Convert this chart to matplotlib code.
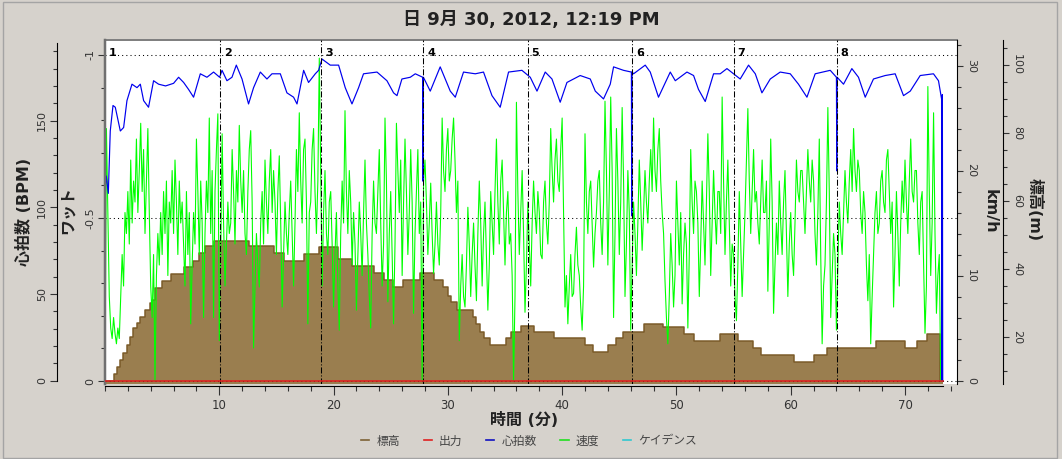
import matplotlib.pyplot as plt
import numpy as np
from matplotlib.lines import Line2D
from matplotlib.patches import Rectangle
from matplotlib.ticker import MultipleLocator

plt.rcParams['font.family'] = ['DejaVu Sans', 'Noto Sans CJK JP']

title = "日 9月 30, 2012, 12:19 PM"

lap_t = [0.0, 10.03, 18.92, 27.82, 36.97, 46.08, 55.0, 64.02]
lap_names = ["1", "2", "3", "4", "5", "6", "7", "8"]

# elevation (m), step changes
elev_t = [0.0, 0.81, 1.05, 1.34, 1.60, 1.92, 2.21, 2.48, 2.80, 3.03, 3.53, 3.96, 4.11,
          4.34, 4.99, 5.77, 6.94, 7.70, 8.19, 8.78, 9.50, 12.62, 14.75, 15.69, 17.38,
          18.69, 20.41, 21.57, 23.56, 24.37, 25.16, 26.07, 27.60, 28.81, 29.60, 29.97,
          30.27, 30.80, 32.20, 32.46, 32.84, 33.18, 33.71, 35.11, 35.55, 36.42, 37.56,
          39.33, 41.96, 42.69, 44.01, 44.73, 45.32, 47.12, 48.82, 50.62, 51.58, 53.77,
          55.35, 56.69, 57.39, 60.25, 62.08, 63.17, 67.42, 70.04, 71.09, 71.92, 73.10, 73.30]
elev_m = [7.0, 9.0, 11.3, 13.2, 15.4, 17.6, 20.1, 22.6, 24.1, 26.0, 27.9, 30.0, 30.9,
          34.3, 36.5, 38.4, 40.6, 42.4, 44.6, 46.8, 48.3, 46.8, 44.6, 42.4, 44.4,
          46.6, 42.9, 40.9, 38.7, 36.8, 34.8, 36.8, 38.7, 36.8, 34.8, 32.1,
          30.4, 27.9, 26.0, 23.8, 21.6, 19.6, 17.6, 19.6, 21.6, 23.3, 21.6,
          19.6, 17.6, 15.5, 17.6, 19.6, 21.6, 23.7, 22.9, 20.8, 18.8, 20.8,
          18.8, 16.9, 14.7, 12.6, 14.7, 16.8, 18.7, 16.8, 18.7, 20.8, 7.0, 7.0]

# heart rate (bpm)
hr_t = [0.00, 0.11, 0.29, 0.46, 0.70, 0.90, 1.34, 1.63, 1.92, 2.36, 2.80, 3.09, 3.38,
        3.81, 4.25, 4.69, 5.30, 6.00, 6.44, 6.88, 7.31, 7.75, 8.34, 8.92, 9.50, 10.03,
        10.24, 10.67, 11.11, 11.49, 11.99, 12.56, 13.00, 13.59, 14.17, 14.61, 15.34,
        15.92, 16.50, 16.80, 17.38, 17.81, 18.40, 18.69, 18.99, 19.71, 20.44, 21.02,
        21.61, 22.19, 22.62, 23.80, 24.67, 25.25, 25.55, 25.98, 26.71, 27.15, 27.80,
        27.83, 27.86, 28.46, 29.33, 30.21, 30.65, 31.37, 32.40, 33.12, 33.86, 34.58,
        35.31, 36.48, 37.21, 37.80, 38.52, 39.11, 39.83, 40.42, 41.58, 42.46, 42.90,
        43.62, 44.21, 44.50, 45.37, 46.06, 46.09, 46.12, 46.25, 47.27, 47.71, 48.43,
        49.46, 49.90, 50.92, 51.50, 51.93, 52.52, 53.25, 53.83, 54.42, 55.00, 55.58,
        56.31, 56.90, 57.48, 58.21, 59.08, 59.96, 60.68, 61.42, 62.14, 63.46, 64.00,
        64.03, 64.06, 64.62, 65.35, 65.93, 66.52, 67.24, 68.27, 69.14, 69.87, 70.46,
        71.33, 72.49, 72.93, 73.20, 73.24, 73.27, 73.30]
hr_bpm = [110, 118, 108, 144, 158.7, 157.7, 144, 146, 161.5, 171, 169, 171, 161.5,
          157.7, 173, 171, 170, 171.5, 175, 172, 168, 163.5, 177, 175, 178, 175,
          179, 173, 175, 182, 174, 159.6, 169, 178, 174, 177, 177,
          166, 163.5, 159.6, 179, 172, 177, 179, 185.5, 182, 182, 169,
          159.6, 169, 177, 178, 173, 166, 164.4, 174, 175, 177, 175,
          115, 175, 167, 181, 167, 163.5, 178, 177, 178, 164.4, 157.7,
          178, 179, 175, 167, 178, 174, 160.6, 172, 176, 174, 167,
          162.5, 171, 181, 179, 178, 95, 178, 177, 182, 178, 163.5,
          178, 173, 178, 176, 168, 161, 177, 177, 180, 177, 174,
          182, 177, 166, 174, 178, 177, 171, 163.5, 177, 179, 175,
          121, 175, 171, 180, 175, 163.5, 174, 176, 177, 164.4, 167,
          176, 177, 173, 162.5, 0, 165, 0]

# speed (km/h), one reading every 0.125 min (8 per minute, one row per minute)
speed_dt = 0.125
speed_kmh = [
    0, 24, 16, 8, 5, 4, 6, 4.5,
    3.5, 5, 4, 8, 12, 9, 16, 14,
    18, 13, 21, 15, 19, 17, 23, 16,
    20, 24.5, 18, 22, 14, 19, 24, 16,
    9, 6, 12, 0, 10, 14, 11, 16,
    12, 18, 14, 19, 10, 17, 15, 20,
    14, 21, 17, 12, 19, 15, 17, 13,
    9, 18, 12, 16, 5.4, 11, 16, 13,
    23, 18, 12, 19, 15, 6, 14, 19,
    16, 25, 14, 20, 6, 18, 22, 25.4,
    3.8, 12, 23.5, 15, 9, 13, 17, 14,
    15, 22, 18, 13, 20, 17, 24.3, 19,
    16, 20, 14, 12, 18, 22, 23.8, 17,
    3.1, 9, 14, 11, 8.9, 15, 18, 13,
    21, 17, 14, 19, 22, 16, 20, 17,
    12, 18, 21.4, 15, 7, 12, 17, 14,
    12, 16, 19, 14, 9, 15, 22, 18,
    25.5, 19, 15, 22, 23, 17, 5.4, 16,
    17, 22, 24, 18, 14, 19, 30.7, 20,
    9, 16, 20, 14, 12, 17, 18, 13,
    7, 12, 16, 9, 4.8, 14, 19, 15,
    25.7, 18, 14, 20, 17, 11, 16, 13,
    6.7, 12, 17, 14, 10, 16, 21, 15,
    12, 8, 5, 14, 19, 15, 14, 18,
    22, 15, 9, 13, 25, 19, 7.5, 14,
    18, 12, 5.4, 13, 24.5, 20, 16, 21,
    10, 17, 23, 18, 12, 16, 22, 17,
    6.4, 14, 18, 22, 14, 17, 0, 19,
    21, 17, 12, 15, 18.8, 14, 10.2, 13,
    17, 13, 11, 16, 25, 20, 18, 22,
    24, 19, 20, 23, 25, 21, 16, 19,
    3.8, 9, 12, 8, 7, 11, 16.5, 13,
    8, 12, 15, 11, 7.6, 14, 19, 15,
    9, 14, 17, 12, 6.7, 11, 18, 15,
    12, 18, 23, 17, 13, 19, 21, 16,
    11, 16, 18, 13, 14, 10, 0, 8,
    26.5, 18, 12, 16, 20, 14, 6.5, 11,
    17, 13, 9, 15, 19, 16, 14, 18,
    16, 12, 11.6, 17, 19, 15, 13, 17,
    24, 20, 17, 21, 23, 19, 18, 22,
    25, 16, 7, 10, 5.4, 9, 12, 8,
    8.3, 12, 14.6, 11, 10, 7, 4.8, 9,
    23.5, 17, 14, 18, 19, 15, 10.8, 14,
    16, 19, 20, 15, 12, 17, 26.6, 20,
    11, 18, 27, 20, 6, 14, 24, 19,
    12, 17, 26, 19, 8, 13, 20, 16,
    4.8, 11, 17, 14, 10, 15, 21, 17,
    12.4, 16, 20, 17, 15, 19, 22, 18,
    25, 20, 18, 22, 24, 19, 16, 14,
    9.5, 6, 3.5, 8, 14, 11, 7, 10,
    19, 15, 11, 16, 7.3, 12, 15, 13,
    5, 12, 22, 17, 14, 19, 18, 15,
    8, 13, 19, 15, 11, 17, 23.5, 18,
    10, 15, 20, 16, 13, 18, 18, 14,
    27, 19, 12, 17, 21, 15, 9, 13,
    12, 8, 5.7, 11, 18, 13, 8, 12,
    16, 21, 25.9, 19, 14, 18, 22, 17,
    18, 15, 13, 17, 21, 16, 16, 19,
    8.5, 15, 23, 17, 6.4, 11, 15, 12,
    19, 15, 12, 17, 20, 14, 8, 13,
    16, 12, 10, 15, 21, 18, 17, 20,
    20, 17, 14, 18, 22, 19, 17, 21,
    19, 14, 11, 16, 23, 12, 3.5, 9,
    11, 17, 26, 18, 6, 10, 14, 12,
    4.8, 11, 17, 14, 12, 16, 20, 17,
    15, 19, 22, 18, 24, 20, 18, 21,
    20, 16, 14, 18, 16, 11, 7.6, 12,
    3.5, 8, 12, 16, 18, 14, 15, 19,
    20, 17, 16, 21, 22, 18, 14, 17,
    7, 12, 18, 14, 9, 15, 19, 16,
    21, 17, 14, 19, 23, 18, 17, 20,
    20, 15, 12, 17, 18, 11, 4.5, 9,
    28, 18, 10, 15, 25.5, 14, 6.4, 10,
    12, 0]

power_t = [0.0, 73.3]
power_w = [0, 0]

legend_names = ["標高", "出力", "心拍数", "速度", "ケイデンス"]
legend_colors = ["#7d6235", "#e02020", "#1010c0", "#20e020", "#30c8d0"]

W, H = 1062, 459
PX = 72 / 100  # points per pixel
BG = "#d6d2cc"
TXT = "#333333"

fig = plt.figure(figsize=(W / 100, H / 100), dpi=100)
fig.patch.set_facecolor(BG)
fig.patches.append(Rectangle((3 / W, 1 / H), 1054 / W, 456 / H, transform=fig.transFigure,
                             fill=False, edgecolor="#a4a4a4", lw=1))

L, R, T, B = 105, 957, 40, 384
host = fig.add_axes([L / W, 1 - B / H, (R - L) / W, (B - T) / H])
host.set_facecolor("white")
ax_spd = host.twinx()
ax_hr = host.twinx()
ax_w = host.twinx()

for a in (host, ax_spd, ax_hr, ax_w):
    for s in a.spines.values():
        s.set_visible(False)
        s.set_linewidth(1.1 * PX)

# --- elevation (host, outer right axis)
host.set_xlim(0, 74.55)
host.set_ylim(6.2, 107.35)
base = host.get_ylim()[0]
host.fill_between(elev_t, elev_m, base, step="post", color="#9a7e4f", lw=0)
host.step(elev_t, elev_m, where="post", color="#7a5a28", lw=1.5 * PX)
host.yaxis.tick_right()
host.spines["right"].set_visible(True)
host.spines["right"].set_position(("outward", 46 * PX))
host.yaxis.set_major_locator(MultipleLocator(20))
host.yaxis.set_minor_locator(MultipleLocator(5))
host.spines["top"].set_visible(True)
host.spines["top"].set_color("#808080")
host.spines["top"].set_linewidth(2 * PX)

# x axis
host.spines["bottom"].set_visible(True)
host.spines["bottom"].set_position(("outward", 2 * PX))
host.spines["bottom"].set_bounds(0, 73.3)
host.set_xticks([10, 20, 30, 40, 50, 60, 70])
host.xaxis.set_minor_locator(MultipleLocator(2))
host.tick_params(axis="x", which="major", length=9 * PX, pad=4 * PX, labelsize=8.5,
                 colors=TXT, width=1.1 * PX)
host.tick_params(axis="x", which="minor", length=4.5 * PX, colors=TXT, width=1.1 * PX)

# --- speed
ax_spd.set_ylim(-0.33, 32.43)
sp_t = np.arange(len(speed_kmh)) * speed_dt
ax_spd.plot(sp_t, speed_kmh, color="#00ff00", lw=1.1 * PX)
ax_spd.spines["right"].set_visible(True)
ax_spd.yaxis.set_major_locator(MultipleLocator(10))
ax_spd.yaxis.set_minor_locator(MultipleLocator(2))

# --- heart rate
ax_hr.set_ylim(-2.0, 196.5)
ax_hr.plot(hr_t, hr_bpm, color="#0000ee", lw=1.2 * PX)
ax_hr.yaxis.tick_left()
ax_hr.spines["left"].set_visible(True)
ax_hr.spines["left"].set_position(("outward", 48 * PX))
ax_hr.spines["left"].set_bounds(0, 195)
ax_hr.yaxis.set_major_locator(MultipleLocator(50))
ax_hr.yaxis.set_minor_locator(MultipleLocator(10))

# --- watts (inverted, empty), grid, laps
ax_w.set_ylim(0.0092, -1.046)
ax_w.plot(power_t, power_w, color="#e02020", lw=1.6 * PX, zorder=5)
ax_w.yaxis.tick_left()
ax_w.spines["left"].set_visible(True)
ax_w.spines["left"].set_color("#707070")
ax_w.spines["left"].set_linewidth(2.5 * PX)
ax_w.set_yticks([-1, -0.5, 0], ["-1", "-0.5", "0"])
ax_w.yaxis.set_minor_locator(MultipleLocator(0.1))
ax_w.yaxis.grid(True, which="major", color="black", lw=0.75, ls=(0, (1, 3)))
for t, name in zip(lap_t, lap_names):
    if t > 0:
        ax_w.axvline(t, color="black", lw=0.75, ls=(0, (5.8, 1.9, 1, 1.9)), zorder=4)
    ax_w.annotate(name, (t, 0.962), xycoords=("data", "axes fraction"),
                  xytext=(3, 0), textcoords="offset points", fontsize=8,
                  fontweight="bold", ha="left", va="center", color="black")

for a in (ax_hr, ax_w):
    a.tick_params(axis="y", which="major", length=7 * PX, pad=3 * PX, labelsize=8,
                  colors=TXT, labelrotation=90, width=1.1 * PX)
    a.tick_params(axis="y", which="minor", length=4 * PX, colors=TXT, width=1.1 * PX)
    for lab in a.get_yticklabels():
        lab.set_va("center")
for a in (host, ax_spd):
    a.tick_params(axis="y", which="major", length=6 * PX, pad=3 * PX, labelsize=8,
                  colors=TXT, labelrotation=-90, width=1.1 * PX)
    a.tick_params(axis="y", which="minor", length=4 * PX, colors=TXT, width=1.1 * PX)
    for lab in a.get_yticklabels():
        lab.set_va("center")
        lab.set_ha("left")

# labels
fig.text(531 / W, 1 - 20 / H, title, ha="center", va="center", fontsize=13,
         fontweight="bold", color="#222222")
fig.text(24 / W, 1 - 212 / H, "心拍数 (BPM)", rotation=90, ha="center", va="center",
         fontsize=11.5, fontweight="bold", color="#222222")
fig.text(68 / W, 1 - 210 / H, "ワット", rotation=90, ha="center", va="center",
         fontsize=11.5, fontweight="bold", color="#222222")
fig.text(990 / W, 1 - 211 / H, "km/h", rotation=-90, ha="center", va="center",
         fontsize=11.5, fontweight="bold", color="#222222")
fig.text(1035 / W, 1 - 210 / H, "標高(m)", rotation=-90, ha="center", va="center",
         fontsize=11.5, fontweight="bold", color="#222222")
fig.text(524 / W, 1 - 420 / H, "時間 (分)", ha="center", va="center",
         fontsize=11.5, fontweight="bold", color="#222222")

handles = [Line2D([], [], color=c, lw=1.2) for c in legend_colors]
fig.legend(handles, legend_names, loc="center", bbox_to_anchor=(529 / W, 1 - 441 / H),
           ncol=5, frameon=False, fontsize=8.5, handlelength=0.7, handletextpad=0.6,
           columnspacing=2.0, labelcolor="#444444")

fig.savefig("out.png", dpi=100, facecolor=BG)
